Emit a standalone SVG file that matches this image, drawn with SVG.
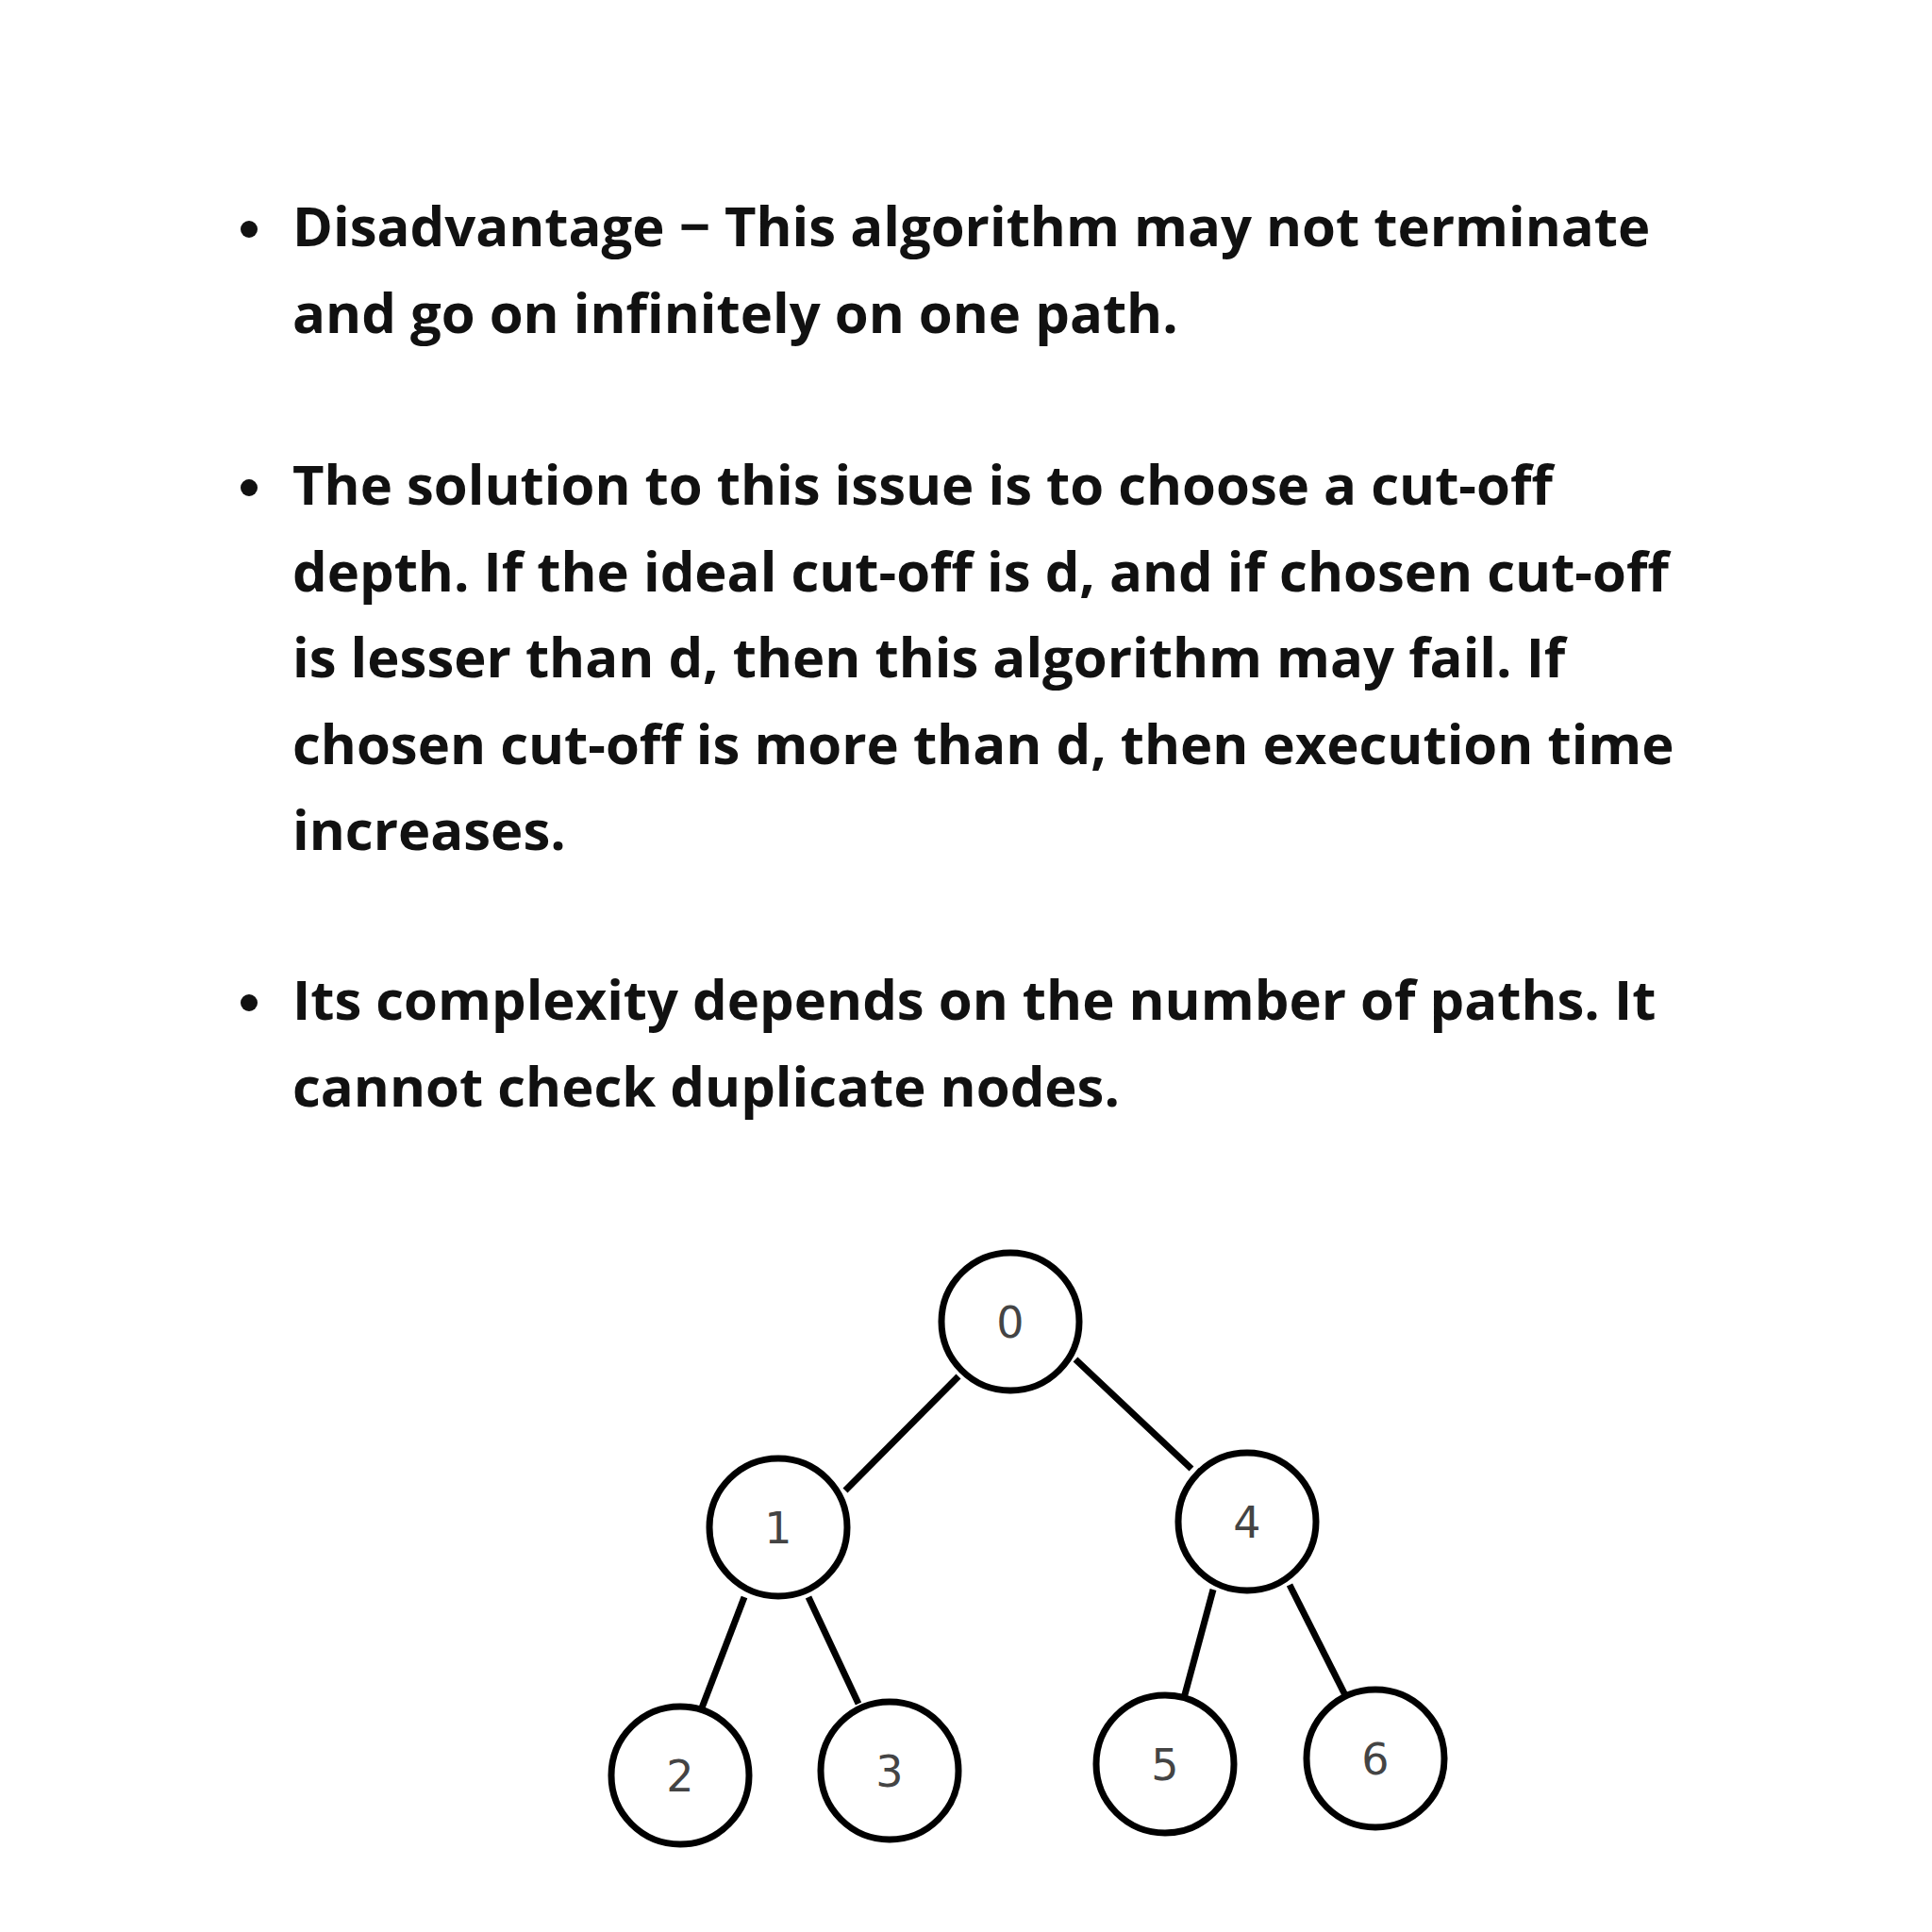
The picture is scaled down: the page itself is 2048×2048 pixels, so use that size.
<svg xmlns="http://www.w3.org/2000/svg" width="2048" height="2048" viewBox="0 0 2048 2048">
<style>
.t{font-family:"Open Sans","Liberation Sans",sans-serif;font-weight:bold;font-size:58px;fill:#111}
.n{fill:#fff;stroke:#000;stroke-width:7}
.d{font-family:"DejaVu Sans","Liberation Sans",sans-serif;font-size:46px;fill:#444;text-anchor:middle}
.e{stroke:#000;stroke-width:7}
</style>
<rect width="2048" height="2048" fill="#fff"/>
<g id="text">
<circle cx="264" cy="243" r="9" fill="#111"/>
<text class="t" x="310" y="261">Disadvantage − This algorithm may not terminate</text>
<text class="t" x="310" y="353">and go on infinitely on one path.</text>
<circle cx="264" cy="517" r="9" fill="#111"/>
<text class="t" x="310" y="535">The solution to this issue is to choose a cut-off</text>
<text class="t" x="310" y="627">depth. If the ideal cut-off is d, and if chosen cut-off</text>
<text class="t" x="310" y="718">is lesser than d, then this algorithm may fail. If</text>
<text class="t" x="310" y="810">chosen cut-off is more than d, then execution time</text>
<text class="t" x="310" y="901">increases.</text>
<circle cx="264" cy="1063" r="9" fill="#111"/>
<text class="t" x="310" y="1081">Its complexity depends on the number of paths. It</text>
<text class="t" x="310" y="1173">cannot check duplicate nodes.</text>
</g>
<g id="edges">
<line class="e" x1="1016" y1="1459" x2="896" y2="1580"/>
<line class="e" x1="1140" y1="1441" x2="1263" y2="1557"/>
<line class="e" x1="789" y1="1693" x2="743" y2="1813"/>
<line class="e" x1="857" y1="1693" x2="910" y2="1806"/>
<line class="e" x1="1286" y1="1685" x2="1255" y2="1800"/>
<line class="e" x1="1367" y1="1680" x2="1426" y2="1797"/>
</g>
<g id="n0"><circle class="n" cx="1071" cy="1401" r="73"/><text class="d" x="1071" y="1418">0</text></g>
<g id="n1"><circle class="n" cx="825" cy="1619" r="73"/><text class="d" x="825" y="1636">1</text></g>
<g id="n4"><circle class="n" cx="1322" cy="1613" r="73"/><text class="d" x="1322" y="1630">4</text></g>
<g id="n2"><circle class="n" cx="721" cy="1882" r="73"/><text class="d" x="721" y="1899">2</text></g>
<g id="n3"><circle class="n" cx="943" cy="1877" r="73"/><text class="d" x="943" y="1894">3</text></g>
<g id="n5"><circle class="n" cx="1235" cy="1870" r="73"/><text class="d" x="1235" y="1887">5</text></g>
<g id="n6"><circle class="n" cx="1458" cy="1864" r="73"/><text class="d" x="1458" y="1881">6</text></g>
</svg>
